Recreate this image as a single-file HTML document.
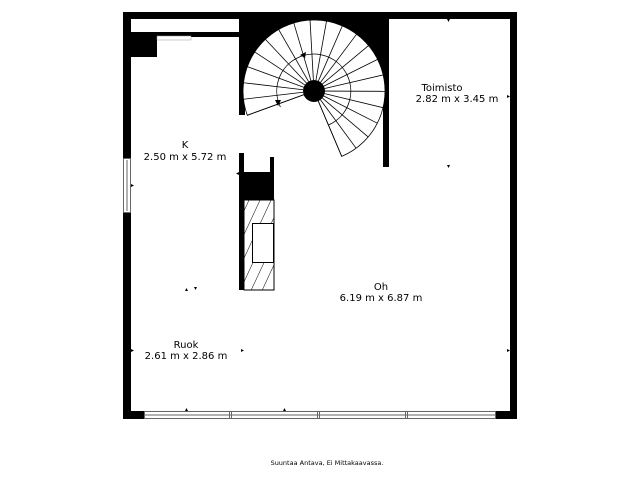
<!DOCTYPE html>
<html><head><meta charset="utf-8"><style>
html,body{margin:0;padding:0;background:#fff;}
svg{display:block;}
text{font-family:"DejaVu Sans","Liberation Sans",sans-serif;fill:#000;}
</style></head><body>
<svg width="640" height="480" viewBox="0 0 640 480" xmlns="http://www.w3.org/2000/svg">
<defs>
<pattern id="h" width="10" height="10" patternUnits="userSpaceOnUse" patternTransform="rotate(25)">
<line x1="0" y1="0" x2="0" y2="10" stroke="#000" stroke-width="1"/>
</pattern>
</defs>
<!-- outer walls -->
<rect x="123" y="12" width="394" height="7" fill="#000"/>
<rect x="123" y="12" width="8" height="407" fill="#000"/>
<rect x="510" y="12" width="7" height="407" fill="#000"/>
<rect x="123" y="411" width="21" height="8" fill="#000"/>
<rect x="496" y="411" width="21" height="8" fill="#000"/>
<!-- bottom windows -->
<g fill="#fff" stroke="#666" stroke-width="1">
<rect x="144.5" y="411.5" width="351" height="7"/>
</g>
<g stroke="#666" stroke-width="1">
<line x1="144" y1="415" x2="496" y2="415"/>
<line x1="229.5" y1="411" x2="229.5" y2="419"/><line x1="231.5" y1="411" x2="231.5" y2="419"/>
<line x1="317.5" y1="411" x2="317.5" y2="419"/><line x1="319.5" y1="411" x2="319.5" y2="419"/>
<line x1="405.5" y1="411" x2="405.5" y2="419"/><line x1="407.5" y1="411" x2="407.5" y2="419"/>
</g>
<!-- left window -->
<rect x="123.5" y="158.5" width="7" height="54" fill="#fff" stroke="#666"/>
<line x1="127" y1="160" x2="127" y2="211" stroke="#666"/>
<!-- top-left niche -->
<rect x="131" y="19" width="108" height="13" fill="#fff"/>
<rect x="131" y="32" width="108" height="5" fill="#000"/>
<rect x="131" y="37" width="26" height="20" fill="#000"/>
<rect x="157" y="36" width="34" height="4" fill="#fff" stroke="#999" stroke-width="0.5"/>
<!-- stair area -->
<rect x="239" y="12" width="145" height="79" fill="#000"/>
<rect x="239" y="12" width="6" height="103" fill="#000"/>
<rect x="383" y="12" width="6" height="155" fill="#000"/>
<path d="M314 91 L247.3 115.3 A71 71 0 1 1 341.7 156.4 Z" fill="#fff" stroke="#000" stroke-width="0.8"/>
<g transform="translate(314 91)" stroke="#000" stroke-width="0.8">
<line x1="11" y1="0" x2="71" y2="0" transform="rotate(160)"/>
<line x1="11" y1="0" x2="71" y2="0" transform="rotate(173.35)"/>
<line x1="11" y1="0" x2="71" y2="0" transform="rotate(186.7)"/>
<line x1="11" y1="0" x2="71" y2="0" transform="rotate(200.05)"/>
<line x1="11" y1="0" x2="71" y2="0" transform="rotate(213.4)"/>
<line x1="11" y1="0" x2="71" y2="0" transform="rotate(226.75)"/>
<line x1="11" y1="0" x2="71" y2="0" transform="rotate(240.1)"/>
<line x1="11" y1="0" x2="71" y2="0" transform="rotate(253.45)"/>
<line x1="11" y1="0" x2="71" y2="0" transform="rotate(266.8)"/>
<line x1="11" y1="0" x2="71" y2="0" transform="rotate(280.15)"/>
<line x1="11" y1="0" x2="71" y2="0" transform="rotate(293.5)"/>
<line x1="11" y1="0" x2="71" y2="0" transform="rotate(306.85)"/>
<line x1="11" y1="0" x2="71" y2="0" transform="rotate(320.2)"/>
<line x1="11" y1="0" x2="71" y2="0" transform="rotate(333.55)"/>
<line x1="11" y1="0" x2="71" y2="0" transform="rotate(346.9)"/>
<line x1="11" y1="0" x2="71" y2="0" transform="rotate(0.25)"/>
<line x1="11" y1="0" x2="71" y2="0" transform="rotate(13.6)"/>
<line x1="11" y1="0" x2="71" y2="0" transform="rotate(26.95)"/>
<line x1="11" y1="0" x2="71" y2="0" transform="rotate(40.3)"/>
<line x1="11" y1="0" x2="71" y2="0" transform="rotate(53.65)"/>
<line x1="11" y1="0" x2="71" y2="0" transform="rotate(67)"/>
<path d="M-33.6 16 A37 37 0 1 1 14.5 34" fill="none"/>
<circle r="11" fill="#000" stroke="none"/>
</g>
<polygon points="300,55 306,52 305,58" fill="#000"/>
<polygon points="275,100 281,100 278,106" fill="#000"/>
<!-- lower stair wall / fireplace -->
<rect x="239" y="153" width="5" height="137" fill="#000"/>
<rect x="270" y="157" width="4" height="16" fill="#000"/>
<rect x="239" y="172" width="35" height="28" fill="#000"/>
<rect x="244" y="200" width="30" height="90" fill="url(#h)" stroke="#000" stroke-width="1"/>
<rect x="252.5" y="223.5" width="21" height="39" fill="#fff" stroke="#000" stroke-width="1"/>
<!-- labels -->
<g font-size="10" text-anchor="middle">
<text x="442" y="91">Toimisto</text>
<text x="457" y="102">2.82 m x 3.45 m</text>
<text x="185" y="148">K</text>
<text x="185" y="160">2.50 m x 5.72 m</text>
<text x="381" y="290">Oh</text>
<text x="381" y="301">6.19 m x 6.87 m</text>
<text x="186" y="348">Ruok</text>
<text x="186" y="359">2.61 m x 2.86 m</text>
</g>
<text x="327" y="465" font-size="6.5" text-anchor="middle">Suuntaa Antava, Ei Mittakaavassa.</text>
<!-- small markers -->
<g fill="#000">
<polygon points="447,19 450,19 448.5,22"/>
<polygon points="447,165 450,165 448.5,168"/>
<polygon points="229,37 232,37 230.5,34"/>
<polygon points="131,184 131,187 134,185.5"/>
<polygon points="239,172 239,175 236,173.5"/>
<polygon points="386,95 386,98 389,96.5"/>
<polygon points="507,95 507,98 510,96.5"/>
<polygon points="185,291 188,291 186.5,288"/>
<polygon points="194,287 197,287 195.5,290"/>
<polygon points="131,349 131,352 134,350.5"/>
<polygon points="241,349 241,352 244,350.5"/>
<polygon points="507,349 507,352 510,350.5"/>
<polygon points="185,411 188,411 186.5,408"/>
<polygon points="283,411 286,411 284.5,408"/>
</g>
</svg>
</body></html>
